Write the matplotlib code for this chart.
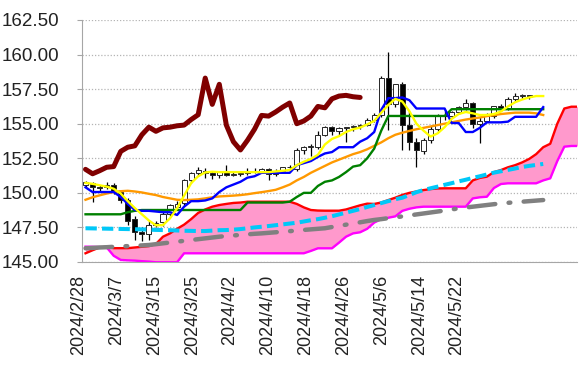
import numpy as np
import matplotlib.pyplot as plt
from matplotlib.ticker import FormatStrFormatter
from matplotlib.transforms import ScaledTranslation

plt.rcParams['font.family'] = ['Liberation Sans', 'DejaVu Sans']

date_labels = ["2024/2/28", "2024/3/7", "2024/3/15", "2024/3/25", "2024/4/2", "2024/4/10",
               "2024/4/18", "2024/4/26", "2024/5/6", "2024/5/14", "2024/5/22"]

# daily candles
open_ = [150.55, 150.7, 150.45, 150.4, 150.6, 150.05, 149.5, 148.1, 147.2, 147.0,
         147.7, 147.9, 148.5, 149.0, 149.25, 150.9, 151.4, 151.6, 151.4, 151.3,
         151.5, 151.3, 151.35, 151.4, 151.6, 151.55, 151.7, 151.38, 151.6, 151.85,
         151.75, 153.1, 153.3, 153.35, 154.2, 154.75, 154.45, 154.7, 154.75, 154.85,
         154.9, 155.3, 155.6, 158.3, 156.4, 157.85, 154.9, 153.7, 153.0, 153.8,
         154.6, 155.6, 155.55, 155.85, 156.2, 156.5, 155.0, 155.2, 155.55, 156.25,
         156.15, 156.8, 157.0, 157.05]
high = [150.85, 150.8, 150.6, 150.8, 150.7, 150.2, 149.6, 148.3, 147.5, 148.0,
        148.0, 148.6, 149.2, 149.4, 151.0, 151.5, 151.9, 151.8, 151.6, 151.6,
        152.0, 151.5, 151.5, 151.8, 151.8, 151.8, 151.8, 151.7, 151.9, 152.0,
        153.25, 153.4, 153.5, 154.45, 154.8, 154.8, 154.75, 154.75, 154.9, 154.95,
        155.4, 155.75, 158.45, 160.2, 157.85, 158.0, 155.9, 154.0, 154.0, 154.8,
        155.7, 155.9, 155.95, 156.3, 156.8, 156.6, 155.5, 155.8, 156.3, 156.4,
        156.9, 157.2, 157.15, 157.1]
low = [150.4, 149.35, 150.1, 150.3, 149.9, 149.3, 147.7, 146.6, 146.5, 146.6,
       147.5, 147.6, 148.3, 148.9, 149.1, 150.7, 151.2, 151.1, 151.0, 151.1,
       151.2, 151.2, 151.2, 151.3, 151.4, 151.4, 150.9, 151.2, 151.5, 151.7,
       151.6, 152.8, 152.7, 153.2, 154.1, 154.2, 154.2, 153.65, 154.5, 154.6,
       154.8, 155.1, 155.5, 154.55, 156.2, 153.1, 153.1, 151.9, 152.8, 153.6,
       154.5, 155.3, 155.4, 155.7, 156.0, 154.7, 153.6, 155.1, 155.4, 155.9,
       156.0, 156.6, 156.8, 156.8]
close = [150.75, 150.45, 150.35, 150.6, 150.05, 149.5, 148.0, 147.2, 147.0, 147.7,
         147.8, 148.5, 149.1, 149.2, 150.9, 151.4, 151.65, 151.4, 151.3, 151.5,
         151.3, 151.35, 151.4, 151.6, 151.55, 151.7, 151.38, 151.6, 151.85, 151.9,
         153.1, 153.3, 153.4, 154.2, 154.75, 154.45, 154.7, 154.75, 154.85, 154.9,
         155.3, 155.65, 158.3, 156.4, 157.85, 154.9, 153.7, 153.1, 153.8, 154.6,
         155.6, 155.55, 155.85, 156.2, 156.5, 155.0, 155.2, 155.55, 156.25, 156.15,
         156.8, 157.0, 157.05, 156.95]

# ichimoku lines
tenkan = [150.4, 150.06, 150.06, 150.06, 150.06, 149.7, 149.2, 148.76, 148.7, 148.7,
          148.65, 148.6, 148.6, 148.4, 149.0, 149.4, 149.4, 149.45, 149.6, 150.06,
          150.4, 150.6, 150.8, 151.1, 151.2, 151.45, 151.45, 151.45, 151.45, 151.45,
          152.0, 152.15, 152.3, 152.6, 152.85, 152.95, 153.3, 153.3, 153.3, 153.7,
          153.95, 154.4, 156.0, 156.85, 156.85, 156.9, 156.7, 156.1, 156.1, 156.1,
          156.1, 156.1, 155.05, 155.05, 154.4, 154.4, 154.7, 155.1, 155.1, 155.1,
          155.15, 155.5, 155.5, 155.5, 155.5, 156.2]
kijun = [148.45, 148.45, 148.45, 148.45, 148.45, 148.45, 148.6, 148.7, 148.76, 148.76,
         148.76, 148.76, 148.76, 148.76, 148.76, 148.76, 148.76, 148.76, 148.76, 148.76,
         148.76, 148.76, 148.76, 149.3, 149.3, 149.3, 149.3, 149.3, 149.3, 149.36,
         149.7, 150.0, 150.0, 150.5, 150.8, 150.9, 151.15, 151.5, 151.9, 152.0,
         152.5, 153.2, 154.5, 155.56, 155.56, 155.56, 155.56, 155.56, 155.56, 155.56,
         155.56, 155.56, 156.05, 156.05, 156.05, 156.05, 156.05, 156.05, 156.05, 156.05,
         156.05, 156.05, 156.05, 156.05, 156.05, 156.05]
senkou_a = [145.63, 145.85, 146.05, 146.1, 146.0, 146.0, 146.0, 146.05, 146.1, 146.15,
            146.3, 146.83, 147.07, 147.4, 147.7, 148.1, 148.55, 148.8, 149.0, 149.12,
            149.2, 149.27, 149.3, 149.36, 149.36, 149.36, 149.36, 149.36, 149.36, 149.36,
            149.2, 148.95, 148.76, 148.72, 148.71, 148.71, 148.71, 148.8, 148.95, 149.1,
            149.22, 149.2, 149.3, 149.48, 149.65, 149.85, 150.0, 150.1, 150.2, 150.27,
            150.32, 150.33, 150.33, 150.33, 150.33, 150.9, 151.08, 151.17, 151.5, 151.65,
            151.85, 152.0, 152.2, 152.45, 152.8, 153.3, 153.55, 155.0, 156.1, 156.23,
            156.23]
senkou_b = [146.11, 146.1, 146.08, 146.06, 145.45, 145.15, 145.12, 145.1, 145.06, 145.03,
            144.98, 144.98, 144.98, 144.98, 145.63, 145.63, 145.63, 145.63, 145.63, 145.63,
            145.63, 145.63, 145.63, 145.63, 145.63, 145.63, 145.63, 145.63, 145.63, 145.63,
            145.63, 145.63, 145.8, 145.99, 145.99, 145.99, 146.4, 146.83, 147.07, 147.15,
            147.4, 147.85, 148.1, 148.2, 148.3, 148.7, 148.85, 148.95, 149.0, 149.0,
            149.0, 149.0, 149.0, 149.0, 149.0, 149.6, 149.68, 149.72, 150.35, 150.64,
            150.69, 150.69, 150.69, 150.69, 150.69, 150.9, 151.05, 152.3, 153.34, 153.39,
            153.39]
chikou = [151.7, 151.38, 151.6, 151.85, 151.9, 153.0, 153.3, 153.4, 154.2, 154.75,
          154.45, 154.7, 154.75, 154.85, 154.9, 155.3, 155.65, 158.3, 156.4, 157.85,
          154.9, 153.7, 153.1, 153.8, 154.6, 155.6, 155.55, 155.85, 156.2, 156.5,
          155.0, 155.2, 155.55, 156.25, 156.15, 156.8, 157.0, 157.05, 156.95, 156.9]

# moving averages
ma_short = [150.72, 150.65, 150.55, 150.45, 150.3, 149.95, 149.4, 148.9, 148.45, 148.0,
            147.65, 147.67, 148.16, 148.88, 149.8, 150.7, 151.2, 151.48, 151.53, 151.5,
            151.5, 151.5, 151.5, 151.5, 151.5, 151.5, 151.5, 151.55, 151.6, 151.65,
            152.0, 152.25, 152.45, 152.75, 153.5, 153.9, 154.1, 154.4, 154.6, 154.72,
            154.95, 155.2, 155.8, 156.35, 156.8, 156.6, 155.9, 155.0, 154.5, 154.07,
            154.3, 154.75, 155.35, 155.7, 155.85, 155.75, 155.63, 155.63, 155.7, 155.88,
            156.25, 156.55, 156.75, 156.9, 157.0, 157.0]
ma_mid = [149.5, 149.68, 149.82, 149.95, 150.06, 150.12, 150.15, 150.1, 150.03, 149.93,
          149.84, 149.7, 149.6, 149.5, 149.48, 149.5, 149.53, 149.6, 149.68, 149.74,
          149.77, 149.8, 149.84, 149.9, 149.98, 150.05, 150.13, 150.22, 150.4, 150.6,
          150.9, 151.15, 151.45, 151.7, 151.95, 152.2, 152.4, 152.6, 152.8, 152.95,
          153.15, 153.4, 153.65, 153.95, 154.2, 154.35, 154.48, 154.6, 154.7, 154.8,
          154.9, 155.0, 155.1, 155.2, 155.3, 155.38, 155.45, 155.55, 155.62, 155.7,
          155.75, 155.8, 155.8, 155.8, 155.75, 155.63]
ma_75 = [147.44, 147.43, 147.42, 147.41, 147.4, 147.39, 147.38, 147.37, 147.36, 147.34,
         147.32, 147.31, 147.3, 147.28, 147.26, 147.25, 147.24, 147.24, 147.27, 147.3,
         147.31, 147.34, 147.38, 147.44, 147.5, 147.55, 147.6, 147.66, 147.72, 147.78,
         147.84, 147.93, 148.02, 148.1, 148.2, 148.31, 148.44, 148.57, 148.7, 148.83,
         148.98, 149.12, 149.26, 149.4, 149.54, 149.65, 149.85, 150.05, 150.2, 150.33,
         150.45, 150.58, 150.7, 150.83, 150.95, 151.08, 151.2, 151.33, 151.46, 151.56,
         151.66, 151.76, 151.87, 151.95, 152.02, 152.09]
ma_200 = [145.99, 146.02, 146.05, 146.07, 146.1, 146.12, 146.15, 146.18, 146.2, 146.23,
          146.29, 146.35, 146.41, 146.47, 146.53, 146.59, 146.65, 146.71, 146.77, 146.83,
          146.88, 146.92, 146.96, 147.0, 147.04, 147.07, 147.11, 147.15, 147.19, 147.23,
          147.27, 147.32, 147.36, 147.4, 147.44, 147.53, 147.61, 147.7, 147.79, 147.87,
          147.96, 148.04, 148.1, 148.17, 148.23, 148.3, 148.37, 148.44, 148.51, 148.58,
          148.65, 148.72, 148.8, 148.88, 148.94, 149.0, 149.06, 149.12, 149.18, 149.24,
          149.28, 149.32, 149.36, 149.4, 149.44, 149.48]

fig = plt.figure(figsize=(5.83, 3.79), dpi=100)
ax = fig.add_axes([82 / 583, 1 - 262 / 379, 495 / 583, 242 / 379])

# cloud
xk = np.arange(len(senkou_a))
ax.fill_between(xk, senkou_a, senkou_b, color='#FF99CC', lw=0, zorder=1)
ax.plot(xk, senkou_a, color='#FF0000', lw=1.7, zorder=3)
ax.plot(xk, senkou_b, color='#FF00FF', lw=1.7, zorder=3)

# candles
o = np.array(open_)
h = np.array(high)
l = np.array(low)
c = np.array(close)
xc = np.arange(len(c))
ax.vlines(xc, l, h, color='black', lw=0.9, zorder=2)
body_bottom = np.minimum(o, c)
body_h = np.maximum(np.abs(c - o), 0.04)
colors = np.where(c >= o, 'white', 'black')
ax.bar(xc, body_h, bottom=body_bottom, width=0.72, color=colors,
       edgecolor='#262626', lw=0.7, zorder=2.5)

# lines
xl = np.arange(len(tenkan))
ax.plot(xl, ma_200, color='#808080', lw=3.2, linestyle=(0, (6, 3, 0.4, 3)),
        dash_capstyle='round', zorder=3)
ax.plot(xl, ma_75, color='#00C8F8', lw=2.9, linestyle=(0, (2.8, 1.3)), zorder=3)
ax.plot(xl, ma_mid, color='#FF9900', lw=1.7, zorder=3.2)
ax.plot(xl, kijun, color='#008000', lw=1.7, zorder=3.3)
ax.plot(xl, tenkan, color='#0000FF', lw=1.7, zorder=3.4)
ax.plot(xl, ma_short, color='#FFFF00', lw=1.7, zorder=3.5)
ax.plot(np.arange(len(chikou)), chikou, color='#800000', lw=3.6, zorder=4,
        solid_joinstyle='round', solid_capstyle='round')

ax.set_xlim(-0.5, 69.8)
ax.set_ylim(145, 162.5)
ax.set_yticks(np.arange(145, 162.51, 2.5))
ax.yaxis.set_major_formatter(FormatStrFormatter('%.2f'))
ax.tick_params(axis='y', length=3.6, width=0.8, color='#A6A6A6', pad=13,
               labelsize=13.5, labelcolor='#222222')
ax.set_xticks([])
ax.yaxis.grid(True, linestyle=(0, (1, 1.5)), color='#B4B4B4', lw=0.9)
ax.set_axisbelow(True)
for side in ['top', 'right']:
    ax.spines[side].set_visible(False)
for side in ['left', 'bottom']:
    ax.spines[side].set_color('#A6A6A6')
    ax.spines[side].set_linewidth(0.8)

# date labels
axl = ax.twiny()
axl.set_xlim(-0.5, 78.0)
axl.xaxis.set_ticks_position('bottom')
axl.set_xticks(range(0, 61, 6))
axl.set_xticklabels(date_labels, rotation=90, fontsize=13, color='#222222')
axl.tick_params(axis='x', length=0, pad=9.5)
for sp in axl.spines.values():
    sp.set_visible(False)
offset = ScaledTranslation(-0.065, 0, fig.dpi_scale_trans)
for lab in axl.get_xticklabels():
    lab.set_transform(lab.get_transform() + offset)

fig.savefig('out.png', dpi=100)
